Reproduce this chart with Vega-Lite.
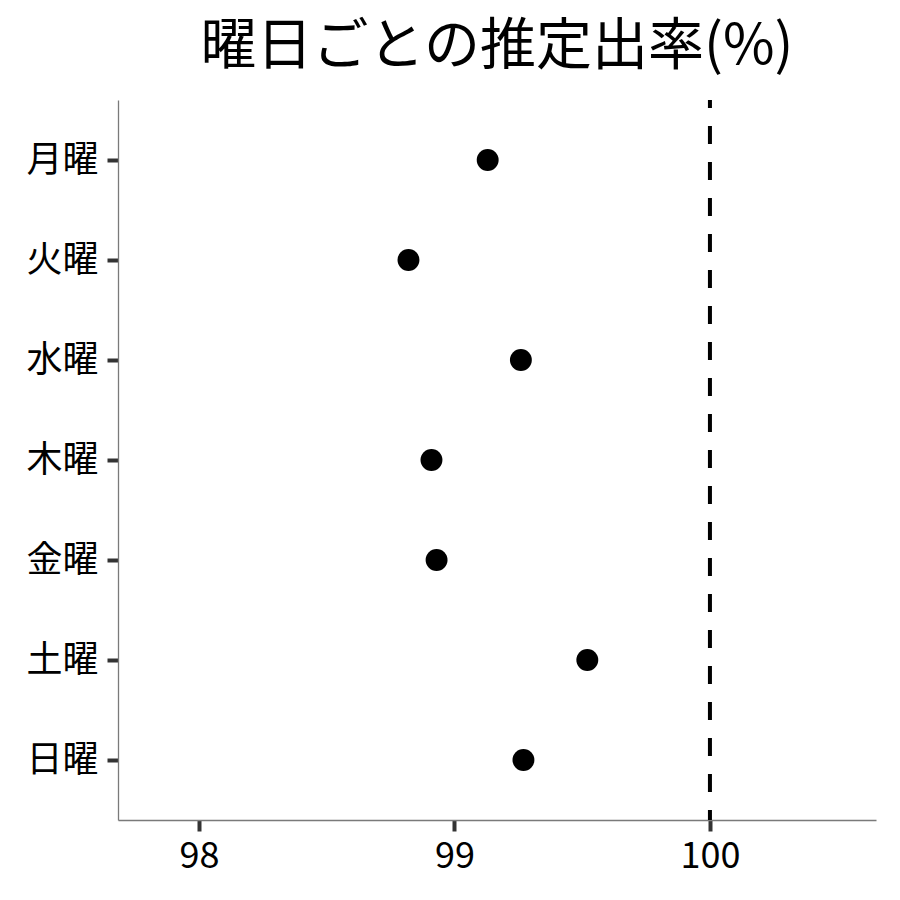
{
  "$schema": "https://vega.github.io/schema/vega-lite/v6.json",
  "autosize": {"type": "none"},
  "padding": {"left": 118, "top": 100, "right": 24, "bottom": 80},
  "width": 758,
  "height": 720,
  "background": "white",
  "title": {
    "text": "曜日ごとの推定出率(%)",
    "font": "Noto Sans CJK JP",
    "fontSize": 56,
    "fontWeight": "normal",
    "color": "black",
    "anchor": "middle",
    "baseline": "bottom",
    "offset": -34
  },
  "config": {
    "view": {"stroke": null},
    "axis": {
      "labelFont": "Noto Sans CJK JP",
      "labelFontSize": 36,
      "labelColor": "black",
      "domainColor": "#7a7a7a",
      "domainWidth": 1.3,
      "tickColor": "#333333",
      "tickWidth": 4,
      "tickSize": 11,
      "labelPadding": 9,
      "grid": false,
      "title": null
    }
  },
  "data": {
    "values": [
      {"day": "月曜", "rate": 99.13},
      {"day": "火曜", "rate": 98.82},
      {"day": "水曜", "rate": 99.26},
      {"day": "木曜", "rate": 98.91},
      {"day": "金曜", "rate": 98.93},
      {"day": "土曜", "rate": 99.52},
      {"day": "日曜", "rate": 99.27}
    ]
  },
  "layer": [
    {
      "mark": {"type": "rule", "color": "black", "strokeWidth": 4, "strokeDash": [18, 18], "strokeDashOffset": 10},
      "data": {"values": [{"ref": 100}]},
      "encoding": {
        "x": {"field": "ref", "type": "quantitative"}
      }
    },
    {
      "mark": {"type": "circle", "color": "black", "opacity": 1, "size": 480},
      "encoding": {
        "x": {
          "field": "rate",
          "type": "quantitative",
          "scale": {"domain": [97.683, 100.65], "nice": false, "zero": false},
          "axis": {"values": [98, 99, 100], "format": "d", "labelPadding": 8}
        },
        "y": {
          "field": "day",
          "type": "nominal",
          "sort": ["月曜", "火曜", "水曜", "木曜", "金曜", "土曜", "日曜"],
          "scale": {"type": "point", "padding": 0.6}
        }
      }
    }
  ]
}
